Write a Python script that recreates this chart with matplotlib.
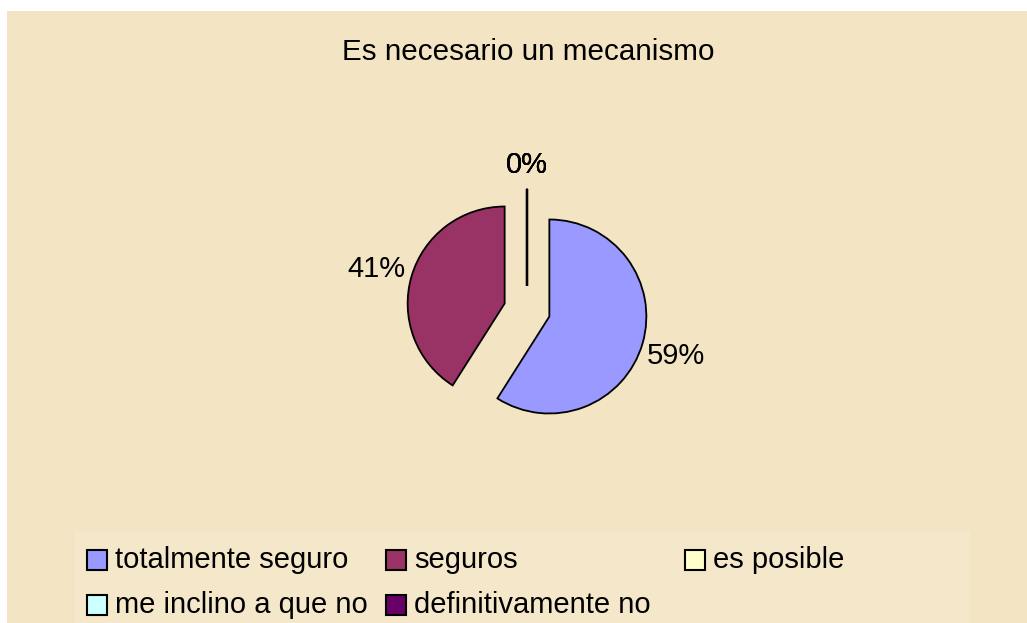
import math
import matplotlib
matplotlib.use('Agg')
import matplotlib.pyplot as plt
from matplotlib.patches import Rectangle

title = "Es necesario un mecanismo"
categories = ["totalmente seguro", "seguros", "es posible",
              "me inclino a que no", "definitivamente no"]
values = [59, 41, 0, 0, 0]
colors = ["#9999FF", "#993366", "#FFFFCC", "#CCFFFF", "#660066"]
explode_frac = [0.24, 0.24, 0.25, 0.25, 0.25]

# label distance (in radii, from each exploded slice centre) – layout only
label_dist = [1.36, 1.38, 1.27, 1.27, 1.27]

FONT = ['Liberation Sans', 'DejaVu Sans']
FS = 21
W, H = 1027, 623
R = 97
fig = plt.figure(figsize=(W / 100, H / 100), dpi=100)
fig.patch.set_facecolor('white')
ax = fig.add_axes([0, 0, 1, 1])

wedges, texts, autotexts = ax.pie(
    values, colors=colors, explode=[e * R for e in explode_frac],
    startangle=90, counterclock=False,
    center=(527, 313), radius=R, autopct='%.0f%%', pctdistance=1.3,
    wedgeprops=dict(edgecolor='black', linewidth=1.3),
    textprops=dict(fontsize=FS, family=FONT, color='black'))

cap_half = 0.716 * FS * 100 / 72 / 2
for w, t, d in zip(wedges, autotexts, label_dist):
    cx, cy = w.center
    th = math.radians(0.5 * (w.theta1 + w.theta2))
    t.set_position((cx + d * w.r * math.cos(th),
                    cy + d * w.r * math.sin(th) - cap_half))
    t.set_ha('center')
    t.set_va('baseline')

# zero-size slices render as a single radial line
for w in wedges:
    if abs(w.theta2 - w.theta1) < 1e-9:
        cx, cy = w.center
        th = math.radians(w.theta1)
        ax.plot([cx, cx + w.r * math.cos(th)], [cy, cy + w.r * math.sin(th)],
                color='black', linewidth=1.6, solid_capstyle='butt')

ax.set_xlim(0, W)
ax.set_ylim(0, H)
ax.set_aspect('auto')
ax.axis('off')

# background panels
ax.add_patch(Rectangle((7, 0), W - 7, H - 11, facecolor='#F3E4C3',
                       edgecolor='none', zorder=-2))
ax.add_patch(Rectangle((75, 0), 970 - 75, H - 531, facecolor='#F4E7CA',
                       edgecolor='none', zorder=-1))

ax.text(528, H - 60, title, ha='center', va='baseline', fontsize=21.3,
        family=FONT, color='black')

# legend (3 columns, row-major)
col_x = [87, 386, 685]
row_bottom = [570, 615]
for i, (lab, col) in enumerate(zip(categories, colors)):
    r, c = divmod(i, 3)
    x = col_x[c]
    yb = H - row_bottom[r]
    ax.add_patch(Rectangle((x, yb), 20, 20, facecolor=col, edgecolor='black',
                           linewidth=1.5, zorder=3))
    ax.text(x + 28, yb + 2, lab, ha='left', va='baseline', fontsize=FS,
            family=FONT, color='black')

fig.savefig('out.png', dpi=100, facecolor=fig.get_facecolor())
